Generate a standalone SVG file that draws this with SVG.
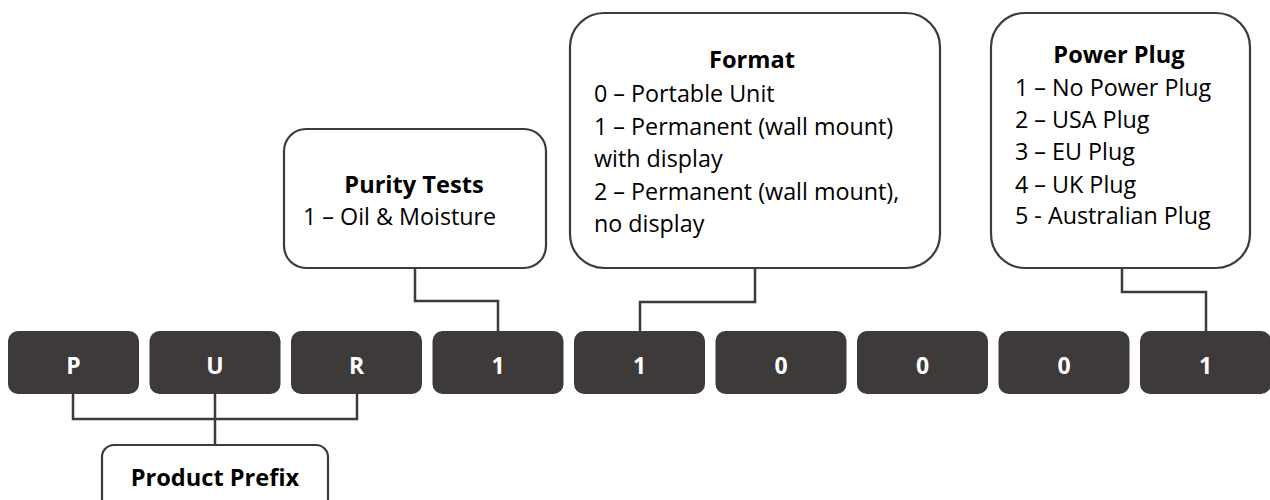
<svg xmlns="http://www.w3.org/2000/svg" width="1270" height="500" viewBox="0 0 1270 500">
<style>
.cell{fill:#3e3a39}
.cl{fill:#ffffff;font-family:"Open Sans",sans-serif;font-weight:bold;font-size:23px;text-anchor:middle}
.box{fill:#ffffff;stroke:#3e3a39;stroke-width:2.2}
.t{fill:#000000;font-family:"Open Sans",sans-serif;font-size:23.3px}
.h{font-weight:bold;text-anchor:middle;font-size:23.6px}
.con{fill:none;stroke:#3e3a39;stroke-width:2.5}
</style>
<rect width="1270" height="500" fill="#ffffff"/>
<g id="connectors">
<path class="con" d="M73,394 V419 H357 V394 M215,394 V445"/>
<path class="con" d="M415,268 V301 H498 V331"/>
<path class="con" d="M755,268 V302 H640 V331"/>
<path class="con" d="M1122,268 V292 H1206 V331"/>
</g>
<g id="cell-P"><rect class="cell" x="8" y="331" width="131" height="63" rx="10"/><text class="cl" x="73.5" y="374">P</text></g>
<g id="cell-U"><rect class="cell" x="149.5" y="331" width="131" height="63" rx="10"/><text class="cl" x="215" y="374">U</text></g>
<g id="cell-R"><rect class="cell" x="291" y="331" width="131" height="63" rx="10"/><text class="cl" x="356.5" y="374">R</text></g>
<g id="cell-4"><rect class="cell" x="432.5" y="331" width="131" height="63" rx="10"/><text class="cl" x="498" y="374">1</text></g>
<g id="cell-5"><rect class="cell" x="574" y="331" width="131" height="63" rx="10"/><text class="cl" x="639.5" y="374">1</text></g>
<g id="cell-6"><rect class="cell" x="715.5" y="331" width="131" height="63" rx="10"/><text class="cl" x="781" y="374">0</text></g>
<g id="cell-7"><rect class="cell" x="857" y="331" width="131" height="63" rx="10"/><text class="cl" x="922.5" y="374">0</text></g>
<g id="cell-8"><rect class="cell" x="998.5" y="331" width="131" height="63" rx="10"/><text class="cl" x="1064" y="374">0</text></g>
<g id="cell-9"><rect class="cell" x="1140" y="331" width="131" height="63" rx="10"/><text class="cl" x="1205.5" y="374">1</text></g>
<g id="product-prefix"><rect class="box" x="102" y="445" width="226" height="70" rx="12"/><text class="t h" x="215" y="486">Product Prefix</text></g>
<g id="purity-tests"><rect class="box" x="284" y="129" width="262" height="139" rx="22"/><text class="t h" x="414" y="193">Purity Tests</text><text class="t" x="303" y="225">1 – Oil &amp; Moisture</text></g>
<g id="format"><rect class="box" x="570" y="13" width="370" height="255" rx="34"/><text class="t h" x="752" y="68">Format</text>
<text class="t" x="594" y="102">0 – Portable Unit</text>
<text class="t" x="594" y="135">1 – Permanent (wall mount)</text>
<text class="t" x="594" y="167">with display</text>
<text class="t" x="594" y="200">2 – Permanent (wall mount),</text>
<text class="t" x="594" y="232">no display</text></g>
<g id="power-plug"><rect class="box" x="991" y="13" width="259" height="255" rx="34"/><text class="t h" x="1119" y="63">Power Plug</text>
<text class="t" x="1015" y="96">1 – No Power Plug</text>
<text class="t" x="1015" y="128">2 – USA Plug</text>
<text class="t" x="1015" y="160">3 – EU Plug</text>
<text class="t" x="1015" y="193">4 – UK Plug</text>
<text class="t" x="1015" y="224">5 - Australian Plug</text></g>
</svg>
